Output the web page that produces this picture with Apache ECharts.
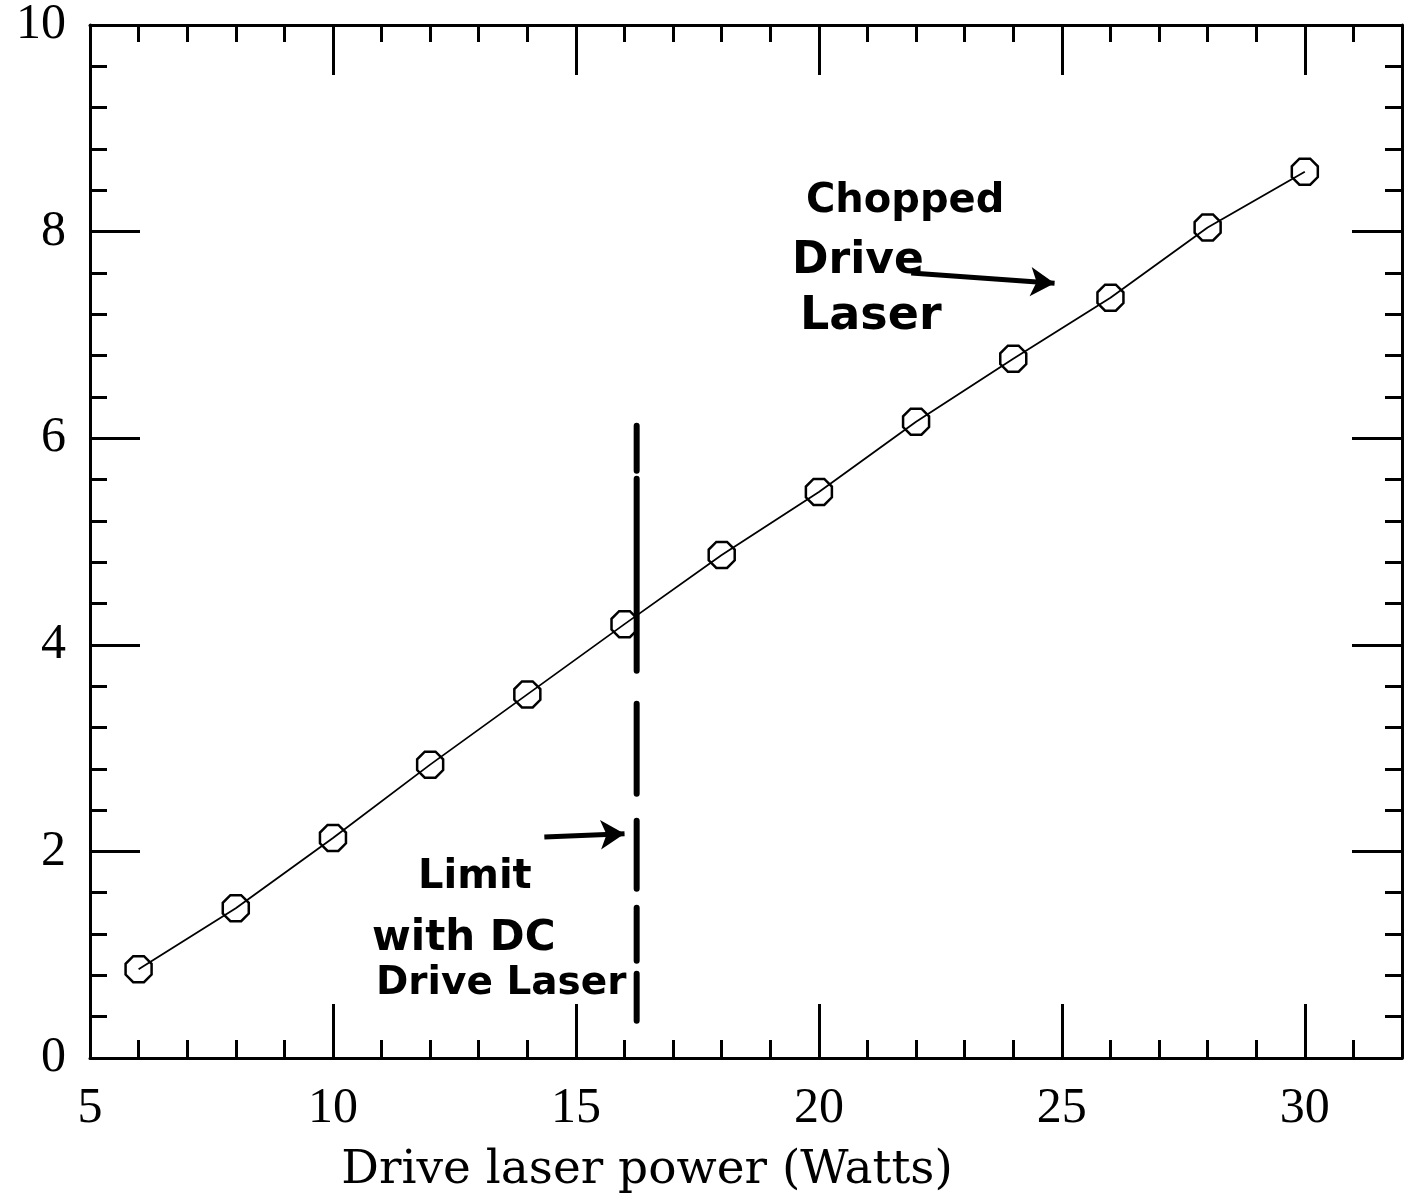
<!DOCTYPE html>
<html>
<head>
<meta charset="utf-8">
<script src="https://cdn.jsdelivr.net/npm/echarts@6/dist/echarts.min.js"></script>
<style>
  html, body { margin: 0; padding: 0; background: #fff; }
  #chart { width: 1410px; height: 1200px; }
</style>
</head>
<body>
<div id="chart"></div>
<script>
// drive laser power (W) and measured output
var power = [6, 8, 10, 12, 14, 16, 18, 20, 22, 24, 26, 28, 30];
var output = [0.86, 1.45, 2.13, 2.84, 3.52, 4.20, 4.87, 5.48, 6.16, 6.77, 7.36, 8.04, 8.58];

// DC drive limit (vertical dashed line, drawn top to bottom)
var limitX = [16.25, 16.25];
var limitY = [6.12, 0.36];

// hand drawn arrows: [start, end]
var choppedArrowX = [21.9, 24.85];
var choppedArrowY = [7.6, 7.5];
var limitArrowX = [14.35, 16.0];
var limitArrowY = [2.14, 2.17];

function pairs(xs, ys) {
    return xs.map(function (x, i) { return [x, ys[i]]; });
}

var dom = document.getElementById('chart');
var myChart = echarts.init(dom);

var serif = 'Liberation Serif';
var hand = 'DejaVu Sans';
var octagon = 'path://M-0.414,-1L0.414,-1L1,-0.414L1,0.414L0.414,1L-0.414,1L-1,0.414L-1,-0.414Z';

var axisLine = {show: true, onZero: false, lineStyle: {color: '#000', width: 3}};
var tickStyle = {color: '#000', width: 3};

var option = {
    animation: false,
    backgroundColor: '#fff',
    grid: {left: 90, right: 8, top: 16, bottom: 142},
    xAxis: [{
        type: 'value',
        min: 5,
        max: 32,
        interval: 5,
        axisLine: axisLine,
        axisTick: {inside: true, length: 54, lineStyle: tickStyle},
        minorTick: {show: true, splitNumber: 5, length: 18, lineStyle: tickStyle},
        splitLine: {show: false},
        axisLabel: {
            margin: 26,
            color: '#000',
            fontFamily: serif,
            fontSize: 50,
            showMaxLabel: false
        },
        name: 'Drive laser power (Watts)',
        nameLocation: 'middle',
        nameGap: 89,
        nameTextStyle: {
            color: '#000',
            fontFamily: 'DejaVu Serif',
            fontSize: 47,
            padding: [0, 198, 0, 0]
        }
    }, {
        type: 'value',
        position: 'top',
        min: 5,
        max: 32,
        interval: 5,
        axisLine: axisLine,
        axisTick: {inside: true, length: 50, lineStyle: tickStyle},
        minorTick: {show: true, splitNumber: 5, length: 17, lineStyle: tickStyle},
        splitLine: {show: false},
        axisLabel: {show: false}
    }],
    yAxis: [{
        type: 'value',
        min: 0,
        max: 10,
        interval: 2,
        axisLine: axisLine,
        axisTick: {inside: true, length: 50, lineStyle: tickStyle},
        minorTick: {show: true, splitNumber: 5, length: 17, lineStyle: tickStyle},
        splitLine: {show: false},
        axisLabel: {margin: 24, color: '#000', fontFamily: serif, fontSize: 50}
    }, {
        type: 'value',
        position: 'right',
        min: 0,
        max: 10,
        interval: 2,
        axisLine: axisLine,
        axisTick: {inside: true, length: 50, lineStyle: tickStyle},
        minorTick: {show: true, splitNumber: 5, length: 17, lineStyle: tickStyle},
        splitLine: {show: false},
        axisLabel: {show: false}
    }],
    series: [{
        type: 'line',
        data: pairs(power, output),
        symbol: octagon,
        symbolSize: 26,
        showAllSymbol: true,
        itemStyle: {color: 'rgba(255,255,255,0)', borderColor: '#000', borderWidth: 2.5},
        lineStyle: {color: '#000', width: 1.8},
        z: 3
    }, {
        type: 'line',
        data: pairs(limitX, limitY),
        symbol: 'none',
        lineStyle: {
            color: '#000',
            width: 6,
            cap: 'round',
            type: [45, 8, 192, 33, 90, 27, 68, 19, 53, 13, 47, 40]
        },
        z: 4
    }, {
        type: 'line',
        data: [],
        markLine: {
            silent: true,
            symbol: ['none', 'arrow'],
            symbolSize: [22, 24],
            label: {show: false},
            lineStyle: {color: '#000', width: 5, type: 'solid'},
            data: [
                [{coord: [choppedArrowX[0], choppedArrowY[0]]}, {coord: [choppedArrowX[1], choppedArrowY[1]]}],
                [{coord: [limitArrowX[0], limitArrowY[0]]}, {coord: [limitArrowX[1], limitArrowY[1]]}]
            ]
        }
    }],
    graphic: [
        {type: 'text', left: 806, top: 182, style: {text: 'Chopped', fill: '#000', font: 'bold 40px "' + hand + '"'}},
        {type: 'text', left: 792, top: 240, style: {text: 'Drive', fill: '#000', font: 'bold 44px "' + hand + '"'}},
        {type: 'text', left: 800, top: 294, style: {text: 'Laser', fill: '#000', font: 'bold 46px "' + hand + '"'}},
        {type: 'text', left: 418, top: 858, style: {text: 'Limit', fill: '#000', font: 'bold 40px "' + hand + '"'}},
        {type: 'text', left: 372, top: 918, style: {text: 'with DC', fill: '#000', font: 'bold 42px "' + hand + '"'}},
        {type: 'text', left: 376, top: 964, style: {text: 'Drive Laser', fill: '#000', font: 'bold 39px "' + hand + '"'}}
    ]
};

if (option && typeof option === 'object') {
    myChart.setOption(option);
}
</script>
</body>
</html>
